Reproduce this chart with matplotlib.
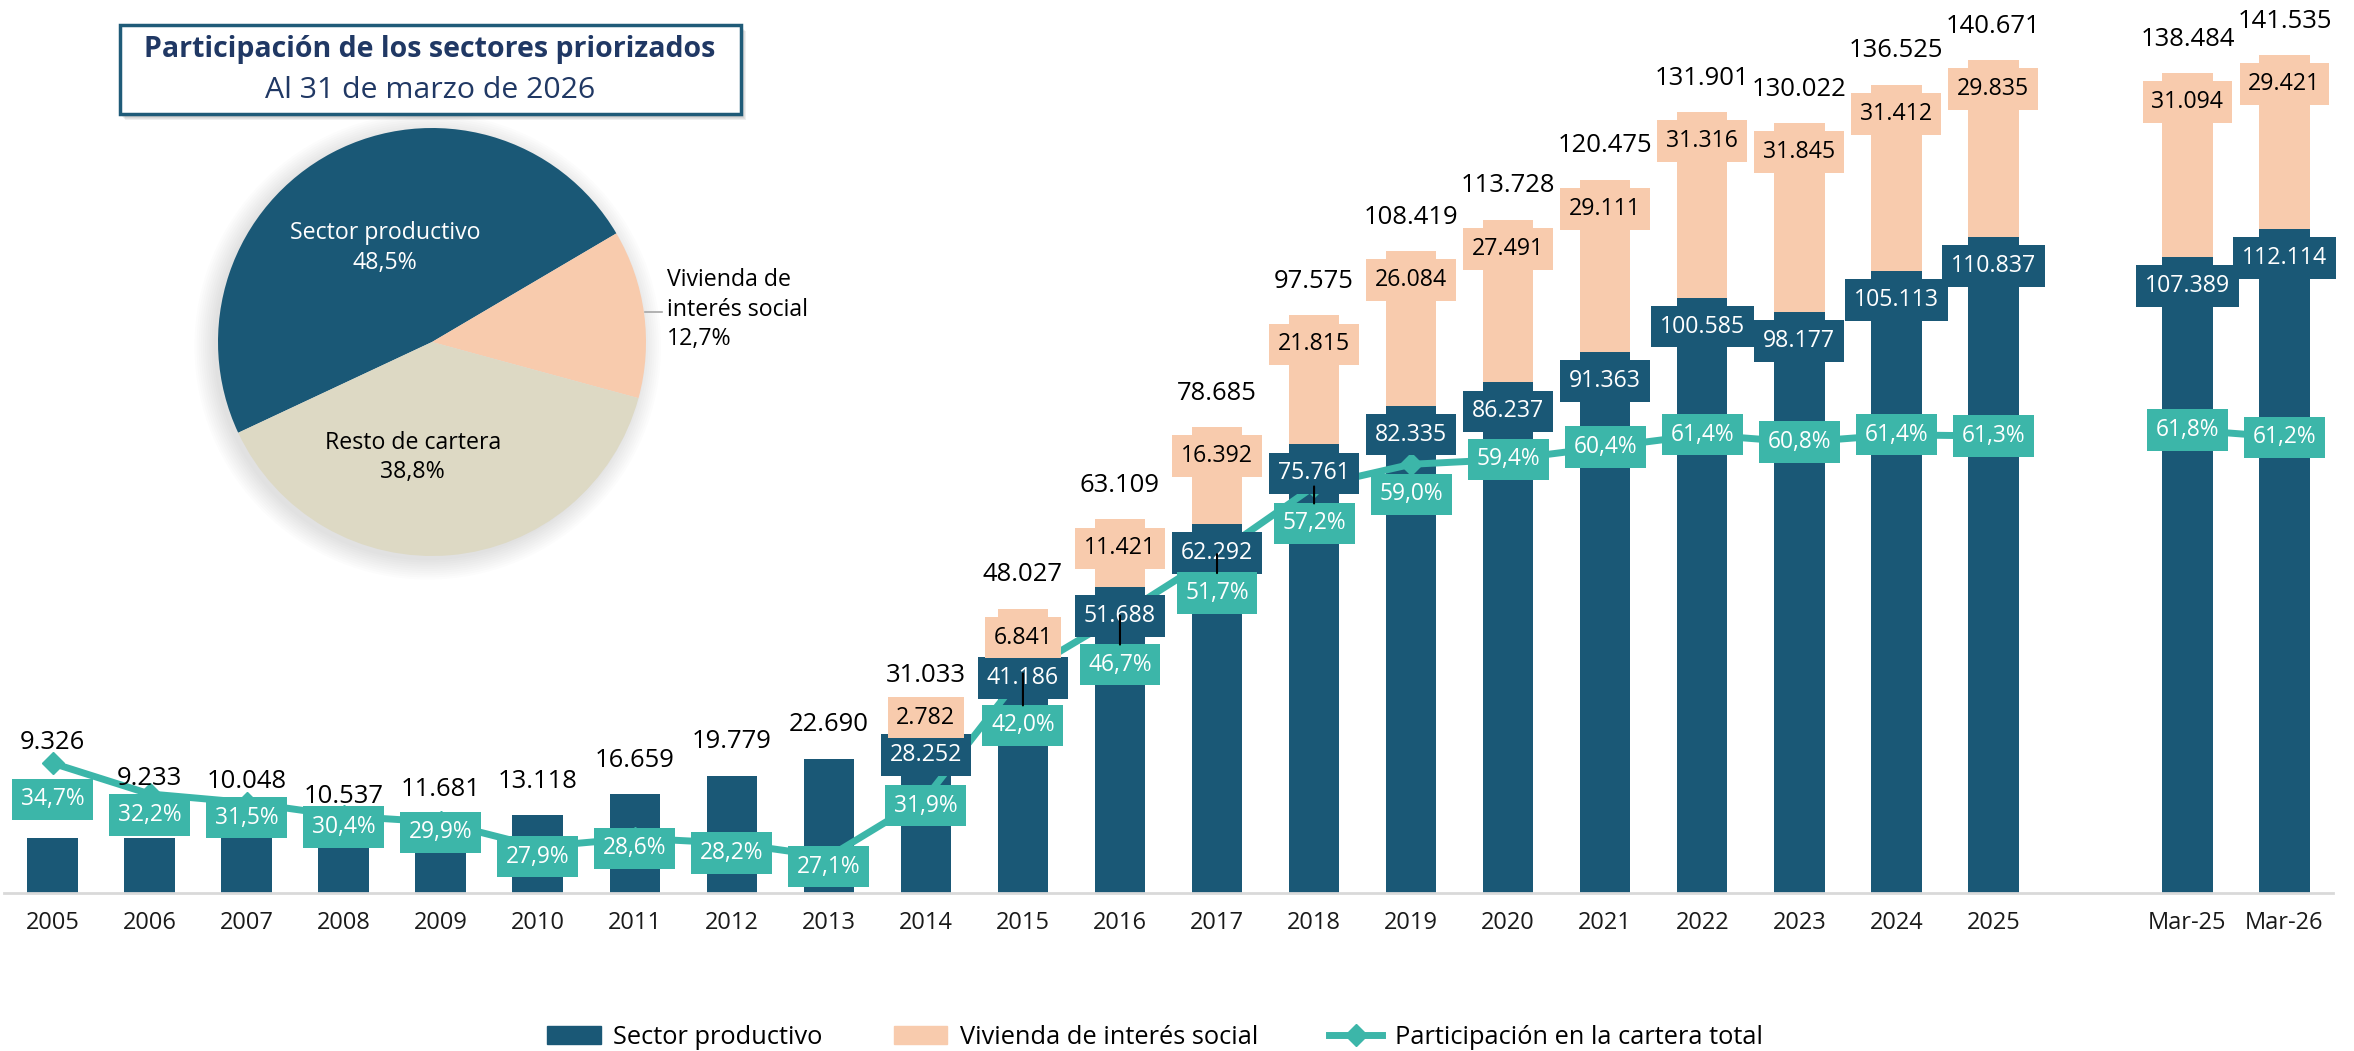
import matplotlib
matplotlib.use('Agg')
import matplotlib.pyplot as plt
from matplotlib.patches import Patch, Rectangle, Circle
from matplotlib.lines import Line2D
import numpy as np

plt.rcParams['font.family'] = ['Open Sans', 'DejaVu Sans']

# datos (millones)
categories = ['2005', '2006', '2007', '2008', '2009', '2010', '2011', '2012', '2013',
              '2014', '2015', '2016', '2017', '2018', '2019', '2020', '2021', '2022',
              '2023', '2024', '2025', 'Mar-25', 'Mar-26']
productivo = [9326, 9233, 10048, 10537, 11681, 13118, 16659, 19779, 22690, 28252,
              41186, 51688, 62292, 75761, 82335, 86237, 91363, 100585, 98177, 105113,
              110837, 107389, 112114]
vivienda = [0, 0, 0, 0, 0, 0, 0, 0, 0, 2782, 6841, 11421, 16392, 21815, 26084, 27491,
            29111, 31316, 31845, 31412, 29835, 31094, 29421]
totales = [9326, 9233, 10048, 10537, 11681, 13118, 16659, 19779, 22690, 31033, 48027,
           63109, 78685, 97575, 108419, 113728, 120475, 131901, 130022, 136525, 140671,
           138484, 141535]
participacion = [34.7, 32.2, 31.5, 30.4, 29.9, 27.9, 28.6, 28.2, 27.1, 31.9, 42.0, 46.7,
                 51.7, 57.2, 59.0, 59.4, 60.4, 61.4, 60.8, 61.4, 61.3, 61.8, 61.2]

pie_labels = ['Sector productivo', 'Vivienda de\ninterés social', 'Resto de cartera']
pie_values = [48.5, 12.7, 38.8]

# colores
dark = '#1A5876'
peach = '#F8CBAD'
teal = '#3CB6A9'
beige = '#DDD9C4'
navy = '#203864'

# ajustes manuales de etiquetas (px)
pct_drop = [36, 21, 15, 11, 10, 10, 10, 10, 10, 8, 52, 49, 39, 37, 30, 0, 0, 0, 0, 0, 0, 0, 0]
total_lift = [95, 60, 52] + [34] * 20
leader_years = ['2015', '2016', '2017', '2018']


def miles(v):
    return f"{v:,}".replace(',', '.')


def pct(v):
    return f"{v:.1f}%".replace('.', ',')


W, H = 2354, 1051
fig = plt.figure(figsize=(W / 100, H / 100), dpi=100)
renderer = fig.canvas.get_renderer()


def fit(text, width_px, weight='normal'):
    # tamaño de letra para que el texto mida width_px
    t = fig.text(0, 0, text, fontsize=10, fontweight=weight)
    w = t.get_window_extent(renderer).width
    t.remove()
    return 10 * width_px / w


fs_tick = fit('2025', 54)
fs_total = fit('131.901', 95)
fs_box = fit('110.837', 86)
fs_pct = fit('34,7%', 64)
fs_title = fit('Participación de los sectores priorizados', 574, 'bold')
fs_sub = fit('Al 31 de marzo de 2026', 330)
fs_pie = fit('Sector productivo', 190)
fs_leg = fit('Sector productivo', 209)

ax = fig.add_axes([4 / W, (H - 893) / H, 2329 / W, 883 / H])
pos = np.arange(len(categories), dtype=float)
pos[21:] += 1

ax.bar(pos, productivo, width=0.52, color=dark, zorder=2)
ax.bar(pos, vivienda, width=0.52, bottom=productivo, color=peach, zorder=2)
ax.set_xlim(-0.5, 23.5)
ax.set_ylim(0, 883 / 5.92 * 1000)
for s in ['top', 'right', 'left']:
    ax.spines[s].set_visible(False)
ax.spines['bottom'].set_color('#D9D9D9')
ax.spines['bottom'].set_linewidth(2)
ax.set_yticks([])
ax.set_xticks(pos)
ax.set_xticklabels(categories, fontsize=fs_tick, color='#1a1a1a')
ax.tick_params(axis='x', length=0, pad=13)

ax2 = ax.twinx()
ax2.set_ylim((1190 - 893) / 12.3, (1190 - 10) / 12.3)
ax2.axis('off')
ax2.plot(pos[:21], participacion[:21], color=teal, lw=5, marker='D', ms=11, zorder=3)
ax2.plot(pos[21:], participacion[21:], color=teal, lw=5, marker='D', ms=11, zorder=3)

px = 0.72  # puntos por pixel


def label(x, y, text, dy, trans, fs, fc=None, tc='black', z=5):
    bbox = dict(boxstyle='square,pad=0.38', fc=fc, ec='none') if fc else None
    ax2.annotate(text, xy=(x, y), xycoords=trans, xytext=(0, dy * px),
                 textcoords='offset points', ha='center', va='center',
                 fontsize=fs, color=tc, bbox=bbox, zorder=z)


for i, x in enumerate(pos):
    # total arriba
    label(x, totales[i], miles(totales[i]), total_lift[i], ax.transData, fs_total)
    if vivienda[i] > 0:
        label(x, productivo[i], miles(productivo[i]), -29, ax.transData, fs_box,
              fc=dark, tc='white')
        if vivienda[i] < 5000:
            label(x, productivo[i] + vivienda[i] / 2, miles(vivienda[i]), 0,
                  ax.transData, fs_box, fc=peach)
        else:
            label(x, productivo[i] + vivienda[i], miles(vivienda[i]), -29,
                  ax.transData, fs_box, fc=peach)
    # participacion
    label(x, participacion[i], pct(participacion[i]), -pct_drop[i], ax2.transData,
          fs_pct, fc=teal, tc='white', z=6)
    if categories[i] in leader_years:
        ax2.annotate('', xy=(x, participacion[i]), xytext=(0, -(pct_drop[i] - 20) * px),
                     textcoords='offset points',
                     arrowprops=dict(arrowstyle='-', color='black', lw=1.5,
                                     shrinkA=0, shrinkB=0), zorder=7)

# leyenda
handles = [Patch(color=dark), Patch(color=peach),
           Line2D([], [], color=teal, lw=5, marker='D', ms=11)]
fig.legend(handles, ['Sector productivo', 'Vivienda de interés social',
                     'Participación en la cartera total'],
           loc='center', bbox_to_anchor=(1155 / W, 1 - 1037 / H), ncol=3,
           frameon=False, fontsize=fs_leg, handlelength=2.1, handleheight=0.7,
           handletextpad=0.5, columnspacing=2.8)

# torta
pax = fig.add_axes([(432 - 214) / W, (H - 342 - 214) / H, 428 / W, 428 / H])
for r in np.linspace(1.09, 1.0, 10):
    pax.add_patch(Circle((-0.02, -0.02), r, color='#808080', alpha=0.025,
                         lw=0, clip_on=False, zorder=0))
pax.pie(pie_values, colors=[dark, peach, beige], startangle=205.1,
        counterclock=False, radius=1, wedgeprops=dict(linewidth=0, zorder=1))
pax.set_xlim(-1, 1)
pax.set_ylim(-1, 1)
pax.axis('off')
pax.text(-0.22, 0.44, pie_labels[0] + '\n' + pct(pie_values[0]), ha='center',
         va='center', color='white', fontsize=fs_pie, linespacing=1.3)
pax.text(1.098, 0.15, pie_labels[1] + '\n' + pct(pie_values[1]), ha='left',
         va='center', color='black', fontsize=fs_pie, linespacing=1.3)
pax.plot([0.995, 1.075], [0.14, 0.14], color='#A6A6A6', lw=1.2, clip_on=False)
pax.text(-0.09, -0.54, pie_labels[2] + '\n' + pct(pie_values[2]), ha='center',
         va='center', color='black', fontsize=fs_pie, linespacing=1.3)

# cuadro de titulo
for k in range(4):
    fig.add_artist(Rectangle(((120 + 2 + k) / W, 1 - (114 + 3 + k) / H), 621 / W, 89 / H,
                             transform=fig.transFigure, fc='#7F7F7F', ec='none',
                             alpha=0.12))
fig.add_artist(Rectangle((120 / W, 1 - 114 / H), 621 / W, 89 / H,
                         transform=fig.transFigure, fc='white', ec='#1F5B78', lw=2.5))
fig.text(430 / W, 1 - 50 / H, 'Participación de los sectores priorizados', ha='center',
         va='center', fontsize=fs_title, fontweight='bold', color=navy)
fig.text(430 / W, 1 - 90 / H, 'Al 31 de marzo de 2026', ha='center', va='center',
         fontsize=fs_sub, color=navy)

fig.savefig('out.png', dpi=100)
